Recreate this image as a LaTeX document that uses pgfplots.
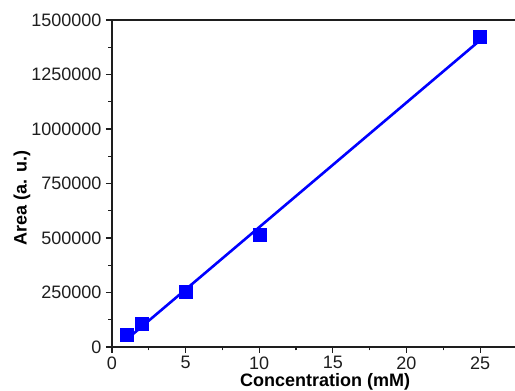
\documentclass[border=0pt]{standalone}
\usepackage{pgfplots}
\pgfplotsset{compat=1.18}
\usepackage{fontspec}
\setmainfont{Liberation Sans}
\definecolor{calblue}{RGB}{0,0,255}
\definecolor{axgray}{RGB}{30,30,30}

\begin{document}
\begin{tikzpicture}[x=1pt,y=1pt]
\begin{axis}[
  scale only axis,
  width=427pt, height=327pt,
  at={(0,0)}, anchor=south west,
  xmin=0, xmax=29,
  ymin=0, ymax=1500000,
  xtick={0,5,10,15,20,25},
  ytick={0,250000,500000,750000,1000000,1250000,1500000},
  minor x tick num=1,
  minor y tick num=1,
  tick align=outside,
  xtick pos=bottom, ytick pos=left,
  major tick length=6pt, minor tick length=3.5pt,
  every tick/.style={axgray, line width=1.2pt},
  axis line style={axgray, line width=1.4pt},
  scaled y ticks=false,
  /pgf/number format/fixed,
  /pgf/number format/1000 sep={},
  /pgf/number format/assume math mode=true,
  tick label style={font=\fontsize{18}{20}\selectfont, text=axgray},
  xticklabel style={yshift=0pt},
  yticklabel style={xshift=-1pt},
  xlabel={\textbf{Concentration (mM)}},
  ylabel={\textbf{Area (a. u.)}},
  label style={font=\fontsize{18}{20}\selectfont},
  xlabel style={at={(axis description cs:0.499,0)}, anchor=south, yshift=-43.5pt, inner sep=0pt},
  ylabel style={at={(axis description cs:0,0.455)}, anchor=south, yshift=78pt},
  clip=false,
]
% linear calibration fit
\addplot[calblue, line width=2.6pt] coordinates {(1,35100) (25,1407200)};
% measured peak areas
\addplot[only marks, mark=square*, mark size=6.5pt, calblue] coordinates {
  (1,55000) (2,105000) (5,252000) (10,514000) (25,1422000)
};
\end{axis}
\pgfresetboundingbox
\useasboundingbox (-112,-44) rectangle (403,347);
\end{tikzpicture}
\end{document}
